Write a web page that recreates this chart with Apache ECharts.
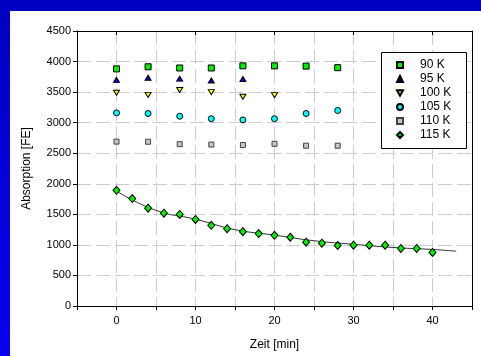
<!DOCTYPE html>
<html><head><meta charset="utf-8">
<script src="https://cdn.jsdelivr.net/npm/echarts@6/dist/echarts.min.js"></script>
<style>
html,body{margin:0;padding:0;width:481px;height:356px;overflow:hidden;background:linear-gradient(#0000c0,#0a00f0);}
#c{position:absolute;left:10px;top:11px;width:471px;height:345px;background:#fff;}
</style></head><body>
<div id="c"></div>
<script>
const t90 = [0,4,8,12,16,20,24,28];
const v90 = [3880,3915,3895,3895,3930,3930,3925,3900];
const t95 = [0,4,8,12,16];
const v95 = [3700,3735,3720,3690,3715];
const t100 = [0,4,8,12,16,20];
const v100 = [3490,3455,3535,3500,3425,3450];
const t105 = [0,4,8,12,16,20,24,28];
const v105 = [3160,3150,3105,3065,3045,3065,3150,3200];
const t110 = [0,4,8,12,16,20,24,28];
const v110 = [2690,2688,2648,2642,2634,2655,2623,2623];
const t115 = [0,2,4,6,8,10,12,14,16,18,20,22,24,26,28,30,32,34,36,38,40];
const v115 = [1893,1758,1600,1519,1498,1417,1320,1266,1217,1185,1157,1125,1044,1027,990,995,995,995,941,941,876];
const tFit = [0,5,10,15,20,25,30,35,40,43];
const vFit = [1880,1565,1420,1250,1160,1068,1010,958,925,897];
const names = ['90 K','95 K','100 K','105 K','110 K','115 K'];
const xTicks = [0,10,20,30,40];

const pair = (t, v) => t.map((x, i) => [x, v[i]]);
const font = 'Liberation Sans, Arial, sans-serif';
const chart = echarts.init(document.getElementById('c'));
const gridDash = {show:true, lineStyle:{color:'#cccccc', width:1, type:[14,5]}};
const downTri = 'path://M0,0L10,0L5,9Z';
function sc(name, t, v, symbol, size, fill, border, rot) {
  return {type:'scatter', name, data:pair(t, v), symbol, symbolSize:size, symbolRotate:rot||0,
    itemStyle:{color:fill, borderColor:border, borderWidth:1, opacity:1}, z:5};
}
const legendIcons = ['rect','triangle',downTri,'circle','rect','diamond'];
chart.setOption({
  animation:false,
  textStyle:{fontFamily:font},
  grid:{left:67, top:20, width:395, height:277},
  xAxis:[{type:'value', min:-5, max:45, interval:5, position:'bottom',
    axisLine:{onZero:false, lineStyle:{color:'#000', width:1}},
    axisTick:{show:true, length:4, lineStyle:{color:'#000'}},
    axisLabel:{color:'#000', fontSize:11, margin:9, fontFamily:font, formatter:v => (v % 10 === 0 ? String(v) : '')},
    splitLine:gridDash,
    name:'Zeit [min]', nameLocation:'middle', nameGap:33, nameTextStyle:{color:'#000', fontSize:12, fontFamily:font}},
   {type:'value', min:-5, max:45, interval:5, position:'top',
    axisLine:{onZero:false, lineStyle:{color:'#000', width:1}},
    axisTick:{show:true, inside:true, length:4, customValues:xTicks, lineStyle:{color:'#000'}},
    axisLabel:{show:false}, splitLine:{show:false}}],
  yAxis:[{type:'value', min:0, max:4500, interval:500,
    axisLine:{show:true, onZero:false, lineStyle:{color:'#000', width:1}},
    axisTick:{show:true, length:4, lineStyle:{color:'#000'}},
    axisLabel:{color:'#000', fontSize:11, margin:6, fontFamily:font, formatter:v => String(v)},
    splitLine:gridDash,
    name:'Absorption [FE]', nameLocation:'middle', nameGap:44, nameRotate:90,
    nameTextStyle:{color:'#000', fontSize:12, fontFamily:font}},
   {type:'value', min:0, max:4500, interval:500, position:'right',
    axisLine:{show:true, onZero:false, lineStyle:{color:'#000', width:1}},
    axisTick:{show:false}, axisLabel:{show:false}, splitLine:{show:false}}],
  legend:{data:names.map((n, i) => ({name:n, icon:legendIcons[i]})), orient:'vertical', left:386, top:47, padding:0, itemGap:0,
    itemWidth:6, itemHeight:6,
    textStyle:{color:'#000', fontSize:12, fontFamily:font, lineHeight:14, padding:[0,0,0,12]}},
  graphic:[{type:'rect', left:371, top:41, shape:{width:85, height:96},
    style:{fill:'#fff', stroke:'#000', lineWidth:1}, z:3}],
  series:[
    sc(names[0], t90, v90, 'rect', [6,6], '#00ee00', '#000'),
    sc(names[1], t95, v95, 'triangle', [6,5], '#0000cc', '#000'),
    sc(names[2], t100, v100, 'triangle', [6,5], '#ffff00', '#000', 180),
    sc(names[3], t105, v105, 'circle', 6, '#00ffff', '#000'),
    sc(names[4], t110, v110, 'rect', [5,5], '#c8c8c8', '#404040'),
    sc(names[5], t115, v115, 'diamond', [7,8], '#00ee00', '#000'),
    {type:'line', name:'fit', data:pair(tFit, vFit), smooth:true, showSymbol:false, symbol:'none',
      lineStyle:{color:'#333', width:1}, z:4}
  ]
});
</script>
</body></html>
